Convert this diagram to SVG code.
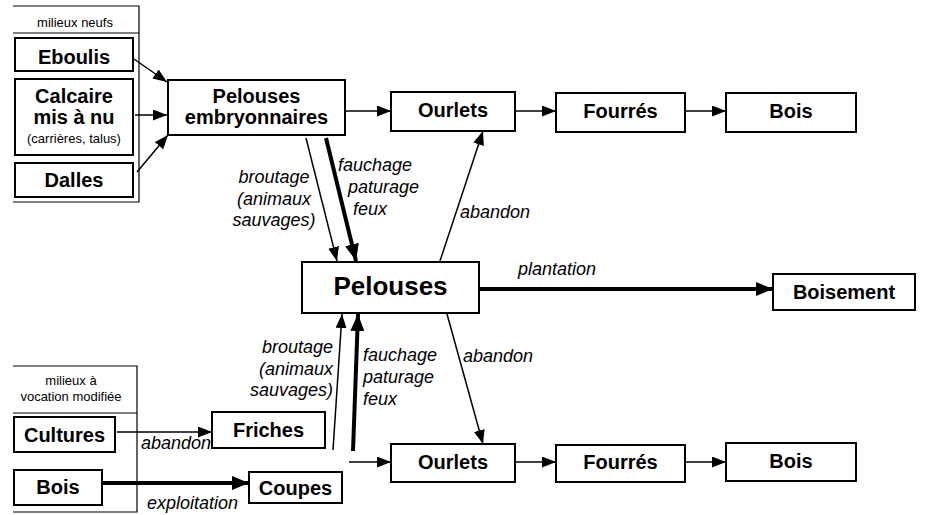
<svg xmlns="http://www.w3.org/2000/svg" width="930" height="515" viewBox="0 0 930 515">
<style>
.box{fill:#fff;stroke:#000;stroke-width:2}
.frame{fill:none;stroke:#000;stroke-width:1.2}
.t{font-family:"Liberation Sans",Arial,sans-serif;font-weight:bold;font-size:20px;text-anchor:middle;fill:#000}
.big{font-size:26px}
.small{font-family:"Liberation Sans",Arial,sans-serif;font-size:13px;text-anchor:middle;fill:#000}
.lab{font-family:"Liberation Sans",Arial,sans-serif;font-style:italic;font-size:18px;fill:#000}
.thin{fill:none;stroke:#000;stroke-width:1.5;marker-end:url(#ah)}
.thick{fill:none;stroke:#000;stroke-width:4;marker-end:url(#ahb)}
</style>
<defs>
<marker id="ah" markerUnits="userSpaceOnUse" markerWidth="14" markerHeight="11" refX="14" refY="5.5" orient="auto"><path d="M0,0 L14,5.5 L0,11 z" fill="#000"/></marker>
<marker id="ahb" markerUnits="userSpaceOnUse" markerWidth="17" markerHeight="14" refX="17" refY="7" orient="auto"><path d="M0,0 L17,7 L0,14 z" fill="#000"/></marker>
</defs>
<rect width="930" height="515" fill="#fff"/>

<g id="frame-neufs">
<path class="frame" d="M13,6 H139 V202 H13 M13,33 H139"/>
<text class="small" x="75" y="27">milieux neufs</text>
</g>
<g id="frame-modifie">
<path class="frame" d="M13,366 H137 V512 H13 M13,413 H137"/>
<text class="small" x="71" y="385">milieux à</text>
<text class="small" x="71" y="401">vocation modifiée</text>
</g>

<g id="connectors">
<line class="thin" x1="134" y1="59" x2="167" y2="82"/>
<line class="thin" x1="135" y1="115" x2="167" y2="115"/>
<line class="thin" x1="137" y1="172" x2="168" y2="135"/>
<line class="thin" x1="346" y1="111" x2="391" y2="111"/>
<line class="thin" x1="515" y1="111" x2="556" y2="111"/>
<line class="thin" x1="685" y1="111" x2="726" y2="111"/>
<line class="thin" x1="306" y1="138" x2="337" y2="261"/>
<line class="thick" x1="326" y1="138" x2="356" y2="261"/>
<line class="thin" x1="440" y1="261" x2="483" y2="131"/>
<line class="thick" x1="479" y1="289" x2="773" y2="289"/>
<line class="thin" x1="447" y1="314" x2="483" y2="444"/>
<line class="thin" x1="333" y1="450" x2="342" y2="314"/>
<line class="thick" x1="353" y1="451" x2="358" y2="314"/>
<line class="thin" x1="349" y1="462" x2="391" y2="462"/>
<line class="thin" x1="515" y1="462" x2="556" y2="462"/>
<line class="thin" x1="685" y1="462" x2="726" y2="462"/>
<line class="thin" x1="117" y1="432" x2="212" y2="432"/>
<line class="thick" x1="102" y1="483" x2="249" y2="483"/>
</g>

<g id="labels">
<text class="lab" x="274" y="183" text-anchor="middle">broutage</text>
<text class="lab" x="274" y="205" text-anchor="middle">(animaux</text>
<text class="lab" x="274" y="226" text-anchor="middle">sauvages)</text>
<text class="lab" x="338" y="171">fauchage</text>
<text class="lab" x="348" y="193">paturage</text>
<text class="lab" x="353" y="215">feux</text>
<text class="lab" x="460" y="218">abandon</text>
<text class="lab" x="518" y="275">plantation</text>
<text class="lab" x="463" y="362">abandon</text>
<text class="lab" x="333" y="353" text-anchor="end">broutage</text>
<text class="lab" x="333" y="375" text-anchor="end">(animaux</text>
<text class="lab" x="333" y="396" text-anchor="end">sauvages)</text>
<text class="lab" x="363" y="361">fauchage</text>
<text class="lab" x="363" y="383">paturage</text>
<text class="lab" x="363" y="405">feux</text>
<text class="lab" x="141" y="449">abandon</text>
<text class="lab" x="147" y="509">exploitation</text>
</g>

<g id="eboulis"><rect class="box" x="15" y="38" width="118" height="33"/><text class="t" x="74" y="64">Eboulis</text></g>
<g id="calcaire"><rect class="box" x="15" y="79" width="118" height="76"/><text class="t" x="74" y="103">Calcaire</text><text class="t" x="74" y="124">mis à nu</text><text class="small" x="74" y="143">(carrières, talus)</text></g>
<g id="dalles"><rect class="box" x="15" y="163" width="118" height="34"/><text class="t" x="74" y="187">Dalles</text></g>
<g id="pelouses-embryonnaires"><rect class="box" x="168" y="80" width="177" height="55"/><text class="t" x="256.5" y="103">Pelouses</text><text class="t" x="256.5" y="124">embryonnaires</text></g>
<g id="ourlets-haut"><rect class="box" x="391" y="92" width="124" height="39"/><text class="t" x="453" y="117">Ourlets</text></g>
<g id="fourres-haut"><rect class="box" x="556" y="93" width="129" height="39"/><text class="t" x="620.5" y="118">Fourrés</text></g>
<g id="bois-haut"><rect class="box" x="726" y="93" width="130" height="39"/><text class="t" x="791" y="118">Bois</text></g>
<g id="pelouses"><rect class="box" x="302" y="262" width="177" height="51"/><text class="t big" x="390.5" y="295">Pelouses</text></g>
<g id="boisement"><rect class="box" x="773" y="274" width="142" height="36"/><text class="t" x="844" y="299">Boisement</text></g>
<g id="ourlets-bas"><rect class="box" x="391" y="444" width="124" height="38"/><text class="t" x="453" y="469">Ourlets</text></g>
<g id="fourres-bas"><rect class="box" x="556" y="445" width="129" height="37"/><text class="t" x="620.5" y="469">Fourrés</text></g>
<g id="bois-bas"><rect class="box" x="726" y="443" width="130" height="38"/><text class="t" x="791" y="468">Bois</text></g>
<g id="cultures"><rect class="box" x="14" y="417" width="101" height="35"/><text class="t" x="64.5" y="442">Cultures</text></g>
<g id="bois-gauche"><rect class="box" x="14" y="470" width="88" height="35"/><text class="t" x="58" y="494">Bois</text></g>
<g id="friches"><rect class="box" x="212" y="412" width="113" height="36"/><text class="t" x="268.5" y="437">Friches</text></g>
<g id="coupes"><rect class="box" x="249" y="472" width="93" height="31"/><text class="t" x="295.5" y="495">Coupes</text></g>
</svg>
